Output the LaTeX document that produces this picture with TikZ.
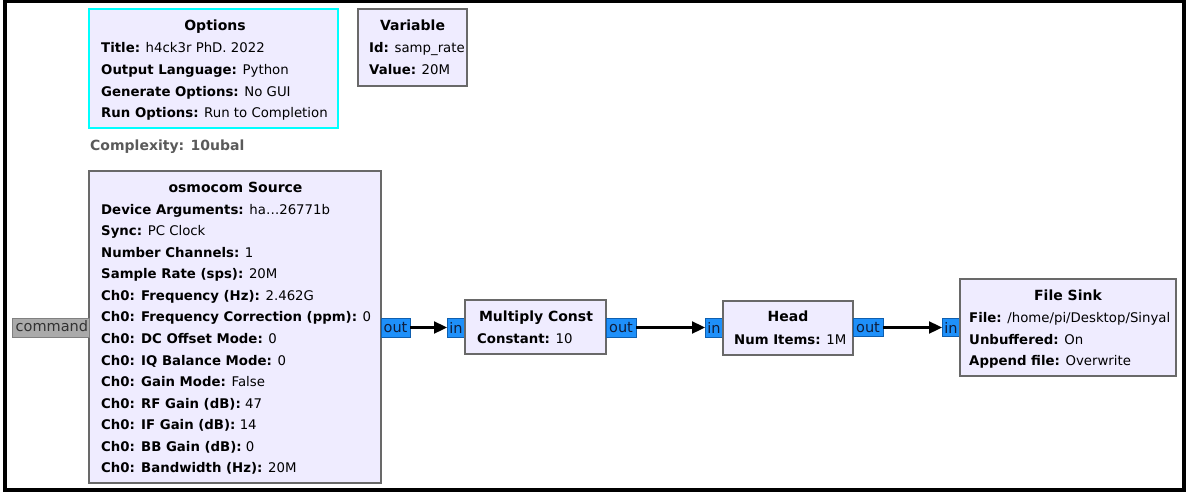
\documentclass[tikz,border=0pt]{standalone}
\usepackage{fontspec}
\setmainfont{DejaVu Sans}
\usetikzlibrary{arrows.meta}
\definecolor{blockfill}{RGB}{239,236,255}
\definecolor{blockline}{RGB}{105,105,105}
\definecolor{optline}{RGB}{0,255,255}
\definecolor{portfill}{RGB}{30,144,250}
\definecolor{portline}{RGB}{15,95,175}
\definecolor{porttext}{RGB}{15,30,60}
\definecolor{cmdfill}{RGB}{170,170,170}
\definecolor{cmdline}{RGB}{128,128,128}
\definecolor{cmdtext}{RGB}{50,50,50}
\definecolor{cxgrey}{RGB}{90,90,90}
\tikzset{
  block/.style={draw=blockline, line width=1.6pt, fill=blockfill, anchor=north west,
    inner sep=0pt, outer sep=0pt},
  btitle/.style={font=\fontsize{14}{16}\selectfont\bfseries, anchor=mid, inner sep=0pt},
  bline/.style={font=\fontsize{13.3}{15}\selectfont, anchor=mid west, inner sep=0pt},
  port/.style={draw=portline, line width=0.9pt, fill=portfill, anchor=north west,
    inner sep=0pt, outer sep=0pt, font=\fontsize{14.5}{16}\selectfont, text=porttext},
  cmdport/.style={port, draw=cmdline, fill=cmdfill},
  flow/.style={line width=2.3pt, -{Triangle[length=13pt,width=12pt]}}
}
\newcommand{\kv}[2]{\textbf{#1:} #2}
\begin{document}
\begin{tikzpicture}[x=1pt,y=-1pt]
\useasboundingbox (0,0) rectangle (1186,495);
% outer frame
\draw[line width=4.4pt] (5,1) rectangle (1184,490);

% Options block
\node[block, draw=optline, line width=2pt, minimum width=249pt, minimum height=119pt] (opt) at (89,9) {};
\node[btitle] (optT) at (215,28) {Options};
\node[bline] (opt1) at (101,50) {\kv{Title}{h4ck3r PhD. 2022}};
\node[bline] (opt2) at (101,72) {\kv{Output Language}{Python}};
\node[bline] (opt3) at (101,93.5) {\kv{Generate Options}{No GUI}};
\node[bline] (opt4) at (101,115) {\kv{Run Options}{Run to Completion}};

% Variable block
\node[block, line width=2.4pt, minimum width=109pt, minimum height=77pt] (var) at (358,9) {};
\node[btitle] (varT) at (412.5,28) {Variable};
\node[bline] (var1) at (369,50) {\kv{Id}{samp\_rate}};
\node[bline] (var2) at (369,72) {\kv{Value}{20M}};

% complexity note
\node[anchor=mid west, inner sep=0pt, text=cxgrey, font=\fontsize{14}{16}\selectfont\bfseries] (cx) at (90,148) {Complexity: 10ubal};

% osmocom Source block
\node[block, minimum width=292pt, minimum height=312pt] (src) at (89,171) {};
\node[btitle] (srcT) at (235.5,190) {osmocom Source};
\node[bline] (src0) at (101,211.5) {\kv{Device Arguments}{ha\ldots26771b}};
\foreach \i/\k/\v in {1/Sync/PC Clock, 2/Number Channels/1,
  3/Sample Rate (sps)/20M, 4/Ch0: Frequency (Hz)/2.462G, 5/Ch0: Frequency Correction (ppm)/0,
  6/Ch0: DC Offset Mode/0, 7/Ch0: IQ Balance Mode/0, 8/Ch0: Gain Mode/False,
  9/Ch0: RF Gain (dB)/47, 10/Ch0: IF Gain (dB)/14, 11/Ch0: BB Gain (dB)/0,
  12/Ch0: Bandwidth (Hz)/20M}
  \node[bline] (src\i) at (101,{211.5+21.55*\i}) {\kv{\k}{\v}};
\node[cmdport, minimum width=77pt, minimum height=19pt] (cmd) at (12,318) {};
\node[anchor=mid west, inner sep=0pt, font=\fontsize{14.5}{16}\selectfont, text=cmdtext] (cmdT) at (15.5,329) {command};
\node[port, minimum width=29pt, minimum height=19pt] (srcout) at (381,318) {out};

% Multiply Const block
\node[port, minimum width=18pt, minimum height=19pt] (mulin) at (447,318) {in};
\node[block, minimum width=141pt, minimum height=54pt] (mul) at (465,300) {};
\node[btitle] (mulT) at (536,319) {Multiply Const};
\node[bline] (mul1) at (477,341) {\kv{Constant}{10}};
\node[port, minimum width=30pt, minimum height=19pt] (mulout) at (606,318) {out};

% Head block
\node[port, minimum width=18pt, minimum height=19pt] (headin) at (705,318) {in};
\node[block, minimum width=130pt, minimum height=54pt] (head) at (723,301) {};
\node[btitle] (headT) at (788,319) {Head};
\node[bline] (head1) at (734,342) {\kv{Num Items}{1M}};
\node[port, minimum width=30pt, minimum height=18pt] (headout) at (853,318.5) {out};

% File Sink block
\node[port, minimum width=18pt, minimum height=18pt] (sinkin) at (942,318.5) {in};
\node[block, minimum width=216pt, minimum height=97pt] (sink) at (960,279) {};
\node[btitle] (sinkT) at (1068,298) {File Sink};
\node[bline] (sink1) at (969,320) {\kv{File}{/home/pi/Desktop/Sinyal}};
\node[bline] (sink2) at (969,341.5) {\kv{Unbuffered}{On}};
\node[bline] (sink3) at (969,363) {\kv{Append file}{Overwrite}};

% stream connections
\draw[flow] (srcout.east) -- (mulin.west);
\draw[flow] (mulout.east) -- (headin.west);
\draw[flow] (headout.east) -- (sinkin.west);
\end{tikzpicture}
\end{document}
